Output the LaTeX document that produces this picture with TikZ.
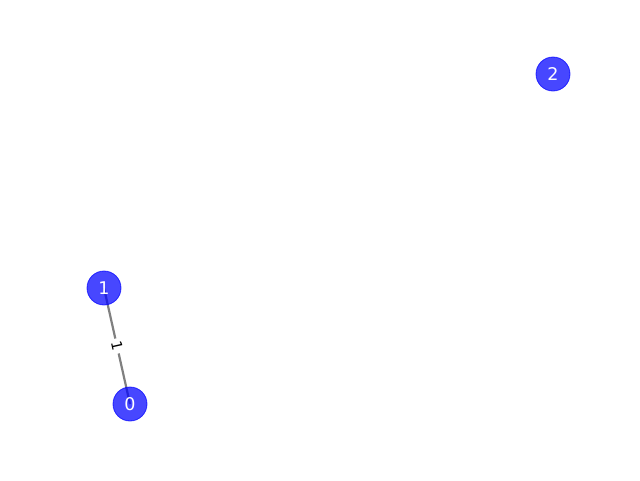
\documentclass[tikz,border=0pt]{standalone}
\usepackage{fontspec}
\setmainfont{DejaVu Sans}
\begin{document}
\begin{tikzpicture}[x=1pt,y=-1pt,
  vertex/.style={circle,fill=blue,fill opacity=0.72,draw=blue,draw opacity=0.72,line width=0.8pt,minimum size=34pt,inner sep=0pt,text=white,text opacity=1,font=\fontsize{17.5}{17.5}\selectfont},
  conn/.style={draw=black!50,line width=2.2pt},
  elabel/.style={fill=white,inner sep=3pt,rounded corners=2pt,font=\fontsize{14.5}{14.5}\selectfont,text=black}]
\useasboundingbox (0,0) rectangle (640,480);
\coordinate (p1) at (104,288);
\coordinate (p0) at (130,404);
\draw[conn] (p1) -- node[elabel,sloped] (l) {1} (p0);
\node[vertex] (n1) at (p1) {1};
\node[vertex] (n0) at (p0) {0};
\node[vertex] (n2) at (553,74) {2};
\end{tikzpicture}
\end{document}
